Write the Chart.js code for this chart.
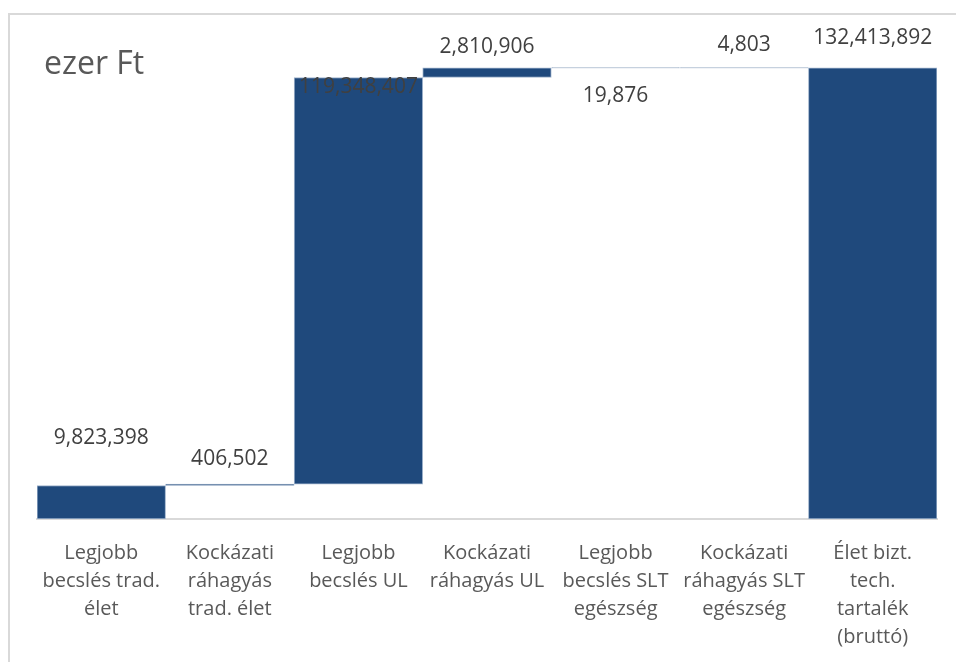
<!DOCTYPE html>
<html>
<head>
<meta charset="utf-8">
<script src="https://cdn.jsdelivr.net/npm/chart.js@4/dist/chart.umd.min.js"></script>
<style>
  body { margin: 0; background: #fff; }
  #wrap { position: relative; width: 956px; height: 662px; overflow: hidden; }
  #frame { position: absolute; left: 8px; top: 13px; width: 1000px; height: 700px; border: 2px solid #d9d9d9; box-sizing: border-box; }
  #unit { position: absolute; left: 44px; top: 40px; font: 32px "Open Sans", sans-serif; color: #595959; }
  canvas { position: absolute; left: 0; top: 0; }
</style>
</head>
<body>
<div id="wrap">
  <div id="frame"></div>
  <canvas id="chart" width="956" height="662"></canvas>
  <div id="unit">ezer Ft</div>
</div>
<script>
// waterfall data (ezer Ft)
const categories = [
  ["Legjobb", "becslés trad.", "élet"],
  ["Kockázati", "ráhagyás", "trad. élet"],
  ["Legjobb", "becslés UL"],
  ["Kockázati", "ráhagyás UL"],
  ["Legjobb", "becslés SLT", "egészség"],
  ["Kockázati", "ráhagyás SLT", "egészség"],
  ["Élet bizt.", "tech.", "tartalék", "(bruttó)"]
];
const values = [9823398, 406502, 119348407, 2810906, 19876, 4803, 132413892];
const isTotal = [false, false, false, false, false, false, true];

// label placement relative to the top of each bar (px)
const labelOffsets = [-48, -25, 10, -21, 28, -23, -30];

// build floating ranges
let running = 0;
const ranges = values.map((v, i) => {
  if (isTotal[i]) return [0, v];
  const r = [running, running + v];
  running += v;
  return r;
});

const fmt = n => n.toLocaleString("en-US");

const valueLabels = {
  id: "valueLabels",
  afterDatasetsDraw(chart) {
    const ctx = chart.ctx;
    const meta = chart.getDatasetMeta(0);
    ctx.save();
    ctx.font = '21px "Open Sans", sans-serif';
    ctx.fillStyle = "#404040";
    ctx.textAlign = "center";
    ctx.textBaseline = "middle";
    meta.data.forEach((bar, i) => {
      ctx.fillText(fmt(values[i]), bar.x, bar.y + labelOffsets[i]);
    });
    ctx.restore();
  }
};

new Chart(document.getElementById("chart"), {
  type: "bar",
  data: {
    labels: categories,
    datasets: [{
      data: ranges,
      backgroundColor: "#1f497c",
      borderColor: "#9fb3cc",
      borderWidth: 1,
      borderSkipped: false,
      categoryPercentage: 1,
      barPercentage: 1
    }]
  },
  options: {
    responsive: false,
    animation: false,
    layout: { padding: { left: 37, right: 19, top: 42, bottom: 0 } },
    plugins: {
      legend: { display: false },
      tooltip: { enabled: false }
    },
    scales: {
      x: {
        grid: { display: false, drawTicks: false },
        border: { display: true, color: "#d9d9d9", width: 2 },
        ticks: {
          color: "#595959",
          font: { family: "Open Sans", size: 20, lineHeight: 1.4 },
          padding: 20,
          maxRotation: 0,
          autoSkip: false
        },
        afterFit(scale) { scale.height = 143; }
      },
      y: {
        display: false,
        min: 0,
        max: 140000000
      }
    }
  },
  plugins: [valueLabels]
});
</script>
</body>
</html>
